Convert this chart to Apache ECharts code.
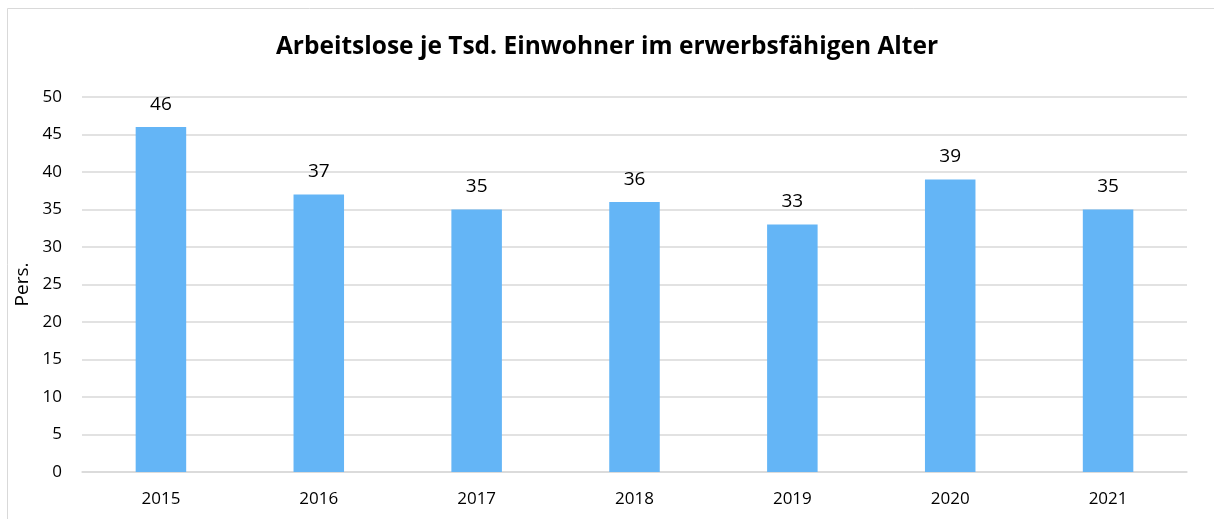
<!DOCTYPE html>
<html>
<head>
<meta charset="utf-8">
<script src="https://cdn.jsdelivr.net/npm/echarts@6/dist/echarts.min.js"></script>
<style>
  html, body { margin: 0; padding: 0; background: #fff; }
  #chart { width: 1214px; height: 519px; }
</style>
</head>
<body>
<div id="chart"></div>
<script>
const years = ['2015', '2016', '2017', '2018', '2019', '2020', '2021'];
const unemployed = [46, 37, 35, 36, 33, 39, 35];
const titleText = 'Arbeitslose je Tsd. Einwohner im erwerbsfähigen Alter';

let chart = echarts.init(document.getElementById('chart'), null, { renderer: 'canvas' });

let options = {
  backgroundColor: '#ffffff',
  textStyle: { fontFamily: 'Open Sans' },
  title: {
    text: titleText,
    left: 'center',
    top: 30,
    textStyle: { fontSize: 24.5, fontWeight: 'bold', color: '#000', fontFamily: 'Open Sans' },
  },
  graphic: [
    {
      type: 'rect',
      shape: { x: 7.5, y: 8.5, width: 1220, height: 530 },
      style: { fill: 'none', stroke: '#d9d9d9', lineWidth: 1 },
      silent: true,
    },
  ],
  grid: { left: 82, right: 27, top: 97, bottom: 47, containLabel: false },
  xAxis: {
    type: 'category',
    data: years,
    axisLine: { show: true, lineStyle: { color: '#d9d9d9', width: 1.5 } },
    axisTick: { show: false },
    axisLabel: { fontSize: 17, color: '#000', margin: 19 },
  },
  yAxis: {
    type: 'value',
    min: 0,
    max: 50,
    interval: 5,
    name: 'Pers.',
    nameLocation: 'middle',
    nameGap: 50,
    nameTextStyle: { fontSize: 19, color: '#000' },
    axisLine: { show: false },
    axisTick: { show: false },
    axisLabel: { fontSize: 17, color: '#000', margin: 20 },
    splitLine: { lineStyle: { color: '#d9d9d9', width: 1.5 } },
  },
  series: [
    {
      type: 'bar',
      data: unemployed,
      barWidth: '32%',
      itemStyle: { color: '#64b5f6' },
      label: {
        show: true,
        position: 'top',
        distance: 13,
        fontSize: 19,
        color: '#000',
      },
    },
  ],
};

chart.setOption(options);
</script>
</body>
</html>
